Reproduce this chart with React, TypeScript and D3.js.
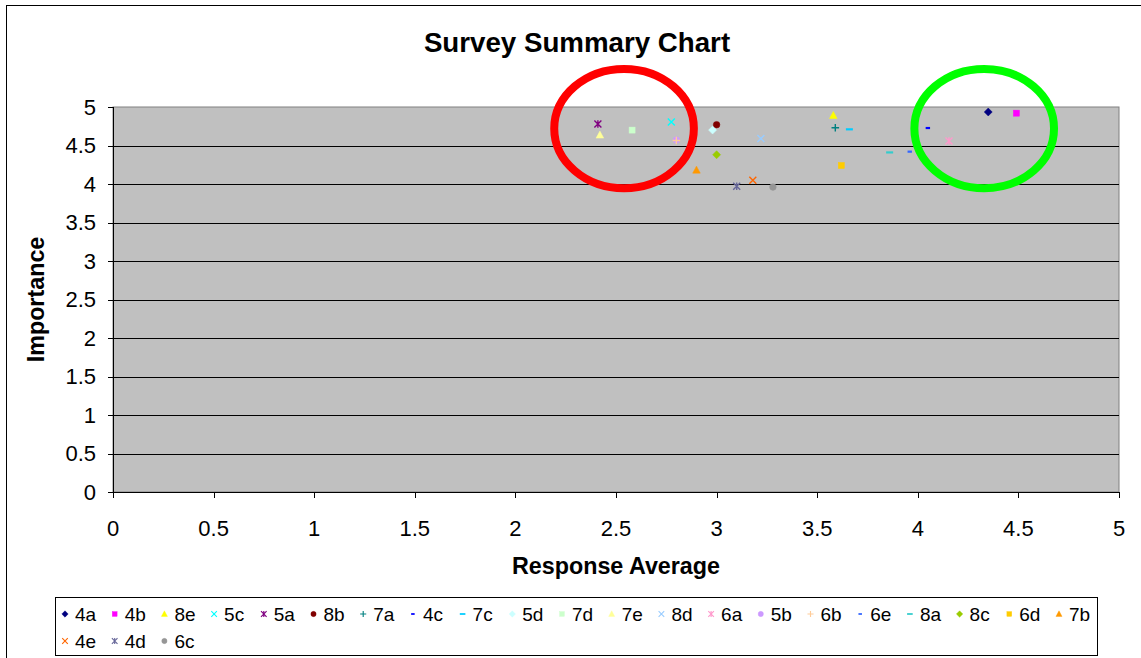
import React from "react";
import * as d3 from "d3";

const SERIES = ["4a","4b","8e","5c","5a","8b","7a","4c","7c","5d","7d","7e","8d","6a","5b","6b","6e","8a","8c","6d","7b","4e","4d","6c"];
const X_VALUES = [4.35,4.49,3.58,2.775,2.41,3.0,3.59,4.05,3.66,2.98,2.58,2.42,3.22,4.155,2.80,2.80,3.96,3.86,3.0,3.62,2.90,3.18,3.10,3.28];
const Y_VALUES = [4.935,4.92,4.89,4.805,4.78,4.77,4.73,4.727,4.71,4.70,4.70,4.635,4.59,4.558,4.57,4.565,4.42,4.41,4.38,4.24,4.18,4.05,3.97,3.96];
const TICKS = [0,0.5,1,1.5,2,2.5,3,3.5,4,4.5,5];
const TICK_LABELS = ["0","0.5","1","1.5","2","2.5","3","3.5","4","4.5","5"];
// annotation ellipses in data units: [cx, cy, rx, ry]
const RED_RING = [2.54, 4.72, 0.347, 0.775];
const GREEN_RING = [4.33, 4.72, 0.347, 0.775];

const COLORS = ["#000080","#FF00FF","#FFFF00","#00FFFF","#800080","#800000","#008080","#0000FF","#00CCFF","#CCFFFF","#CCFFCC","#FFFF99","#99CCFF","#FF99CC","#CC99FF","#FFCC99","#3366FF","#33CCCC","#99CC00","#FFCC00","#FF9900","#FF6600","#666699","#969696"];
const SHAPES = ["diamond","square","triangle","x","star","circle","plus","dash","longdash"];

const FONT = "'Liberation Sans', Arial, sans-serif";

function Marker({ shape, color, cx, cy, s = 1 }: { shape: string; color: string; cx: number; cy: number; s?: number }) {
  const t = `translate(${cx},${cy}) scale(${s})`;
  switch (shape) {
    case "diamond":
      return <path transform={t} d="M0,-4L4,0L0,4L-4,0Z" fill={color} stroke={color} strokeWidth={0.5} />;
    case "square":
      return <rect transform={t} x={-3} y={-3} width={6} height={6} fill={color} stroke={color} strokeWidth={0.5} />;
    case "triangle":
      return <path transform={t} d="M0,-4L3.8,3L-3.8,3Z" fill={color} stroke={color} strokeWidth={0.5} />;
    case "x":
      return <path transform={t} d="M-3.5,-3.5L3.5,3.5M-3.5,3.5L3.5,-3.5" stroke={color} strokeWidth={1.4} fill="none" />;
    case "star":
      return <path transform={t} d="M-3.5,-3.5L3.5,3.5M-3.5,3.5L3.5,-3.5M0,-3.8L0,3.8" stroke={color} strokeWidth={1.4} fill="none" />;
    case "circle":
      return <circle transform={t} r={3.3} fill={color} stroke={color} strokeWidth={0.5} />;
    case "plus":
      return <path transform={t} d="M-3.8,0L3.8,0M0,-3.8L0,3.8" stroke={color} strokeWidth={1.4} fill="none" />;
    case "dash":
      return <rect transform={t} x={-2.2} y={-1.1} width={4.4} height={2.2} fill={color} />;
    case "longdash":
      return <rect transform={t} x={-3.5} y={-1.1} width={7} height={2.2} fill={color} />;
    default:
      return null;
  }
}

export default function App() {
  const W = 1141, H = 658;
  const x = d3.scaleLinear().domain([0, 5]).range([113, 1119]);
  const y = d3.scaleLinear().domain([0, 5]).range([492, 107]);
  const [x0, x1] = x.range();
  const [y0, y1] = y.range();

  const legendLeft = 55, legendTop = 597, legendRight = 1097, legendBottom = 655;
  const perRow = 21, itemW = 49.7, firstMarker = 65, row1 = 614, rowGap = 27;

  return (
    <svg width={W} height={H} style={{ position: "absolute", left: 0, top: 0, background: "#fff" }} fontFamily={FONT}>
      <rect x={6.5} y={5.5} width={W} height={H} fill="#fff" stroke="#000" strokeWidth={1} />
      <text x={577} y={52} textAnchor="middle" fontSize={27.7} fontWeight="bold">Survey Summary Chart</text>

      {/* plot area */}
      <rect x={x0} y={y1} width={x1 - x0} height={y0 - y1} fill="#C0C0C0" stroke="#808080" strokeWidth={1} />
      {TICKS.filter(v => v > 0 && v < 5).map(v => (
        <line key={"g" + v} x1={x0} x2={x1} y1={Math.round(y(v)) + 0.5} y2={Math.round(y(v)) + 0.5} stroke="#000" strokeWidth={1} />
      ))}
      <line x1={x0 + 0.5} x2={x0 + 0.5} y1={y1} y2={y0} stroke="#000" />
      <line x1={x0} x2={x1} y1={y0 + 0.5} y2={y0 + 0.5} stroke="#000" />

      {/* y axis ticks */}
      {TICKS.map((v, i) => (
        <g key={"yt" + v}>
          <line x1={x0 - 5} x2={x0} y1={Math.round(y(v)) + 0.5} y2={Math.round(y(v)) + 0.5} stroke="#000" />
          <text x={96} y={y(v) + 7.5} textAnchor="end" fontSize={22}>{TICK_LABELS[i]}</text>
        </g>
      ))}
      {/* x axis ticks */}
      {TICKS.map((v, i) => (
        <g key={"xt" + v}>
          <line x1={Math.round(x(v)) + 0.5} x2={Math.round(x(v)) + 0.5} y1={y0} y2={y0 + 6} stroke="#000" />
          <text x={x(v)} y={536} textAnchor="middle" fontSize={22}>{TICK_LABELS[i]}</text>
        </g>
      ))}

      <text x={616} y={574} textAnchor="middle" fontSize={23.3} fontWeight="bold">Response Average</text>
      <text transform={`translate(44,${(y0 + y1) / 2}) rotate(-90)`} textAnchor="middle" fontSize={23.3} fontWeight="bold">Importance</text>

      {/* data */}
      {SERIES.map((name, i) => (
        <Marker key={name} shape={SHAPES[i % SHAPES.length]} color={COLORS[i]} cx={x(X_VALUES[i])} cy={y(Y_VALUES[i])} />
      ))}

      {/* annotations */}
      {[{ r: RED_RING, c: "#FF0000" }, { r: GREEN_RING, c: "#00FF00" }].map((a, k) => (
        <ellipse key={"e" + k} cx={x(a.r[0])} cy={y(a.r[1])} rx={x(a.r[2]) - x(0)} ry={y(0) - y(a.r[3])} fill="none" stroke={a.c} strokeWidth={8} />
      ))}

      {/* legend */}
      <rect x={legendLeft + 0.5} y={legendTop + 0.5} width={legendRight - legendLeft} height={legendBottom - legendTop} fill="#fff" stroke="#000" strokeWidth={1} />
      {SERIES.map((name, i) => {
        const col = i % perRow, row = Math.floor(i / perRow);
        const mx = firstMarker + col * itemW, my = row1 + row * rowGap;
        return (
          <g key={"l" + name}>
            <Marker shape={SHAPES[i % SHAPES.length]} color={COLORS[i]} cx={mx} cy={my} s={0.8} />
            <text x={mx + 10} y={my + 7} fontSize={19}>{name}</text>
          </g>
        );
      })}
    </svg>
  );
}
